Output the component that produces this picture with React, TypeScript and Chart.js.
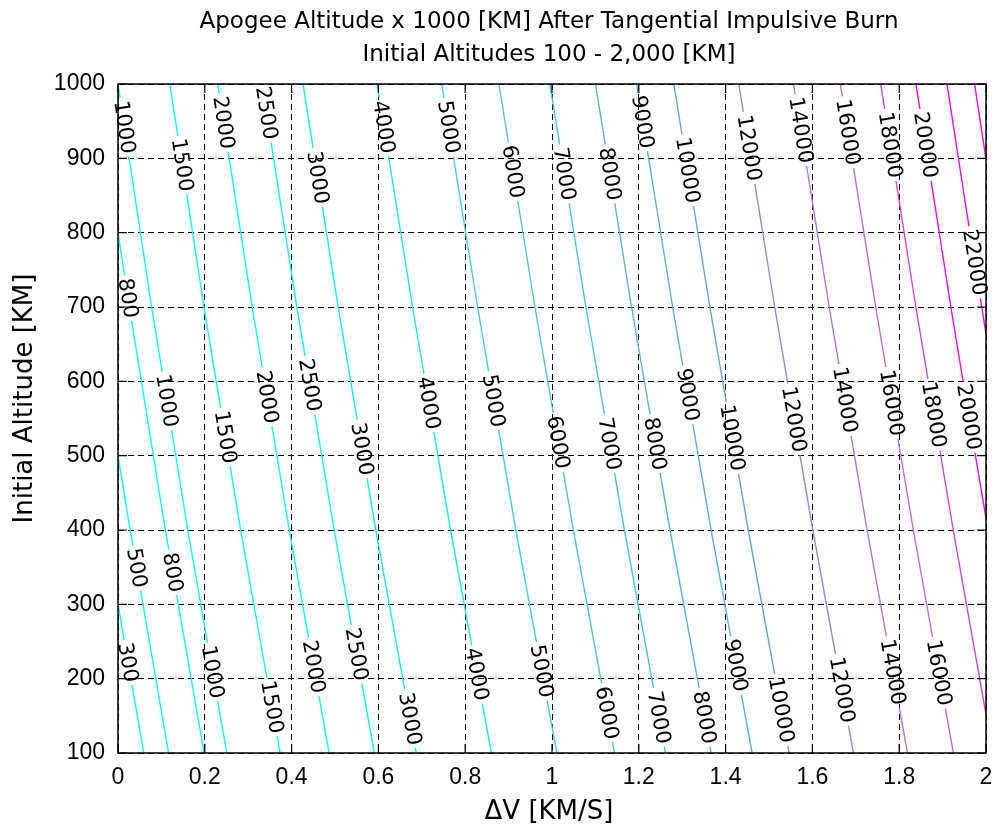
import React, { useEffect, useRef } from "react";
import { Chart, registerables } from "chart.js";

Chart.register(...registerables);

// ---------------- data ----------------
const chartTitle = ["Apogee Altitude x 1000 [KM] After Tangential Impulsive Burn", "Initial Altitudes 100 - 2,000 [KM]"];
const xTitle = "\u0394V [KM/S]";
const yTitle = "Initial Altitude [KM]";

const xTickLabels = ["0", "0.2", "0.4", "0.6", "0.8", "1", "1.2", "1.4", "1.6", "1.8", "2"];
const yTickLabels = ["100", "200", "300", "400", "500", "600", "700", "800", "900", "1000"];

const levels = [300, 500, 800, 1000, 1500, 2000, 2500, 3000, 4000, 5000, 6000, 7000, 8000, 9000, 10000, 12000, 14000, 16000, 18000, 20000, 22000, 24000];

// each contour: [deltaV (km/s), initial altitude (km)], ascending altitude
const c300 = [[0.0594, 100], [0, 300]];
const c500 = [[0.1166, 100], [0.028, 400], [0, 500]];
const c800 = [[0.1985, 100], [0.1091, 400], [0.0263, 700], [0, 800]];
const c1000 = [[0.2507, 100], [0.1608, 400], [0.0775, 700], [0, 1000]];
const c1500 = [[0.3736, 100], [0.2826, 400], [0.1981, 700], [0.1195, 1000]];
const c2000 = [[0.4865, 100], [0.3946, 400], [0.3092, 700], [0.2297, 1000]];
const c2500 = [[0.5907, 100], [0.4981, 400], [0.412, 700], [0.3316, 1000]];
const c3000 = [[0.6872, 100], [0.594, 400], [0.5073, 700], [0.4263, 1000]];
const c4000 = [[0.8603, 100], [0.7663, 400], [0.6787, 700], [0.5968, 1000]];
const c5000 = [[1.0111, 100], [0.9167, 400], [0.8285, 700], [0.746, 1000]];
const c6000 = [[1.1438, 100], [1.0492, 400], [0.9607, 700], [0.8777, 1000]];
const c7000 = [[1.2615, 100], [1.1668, 400], [1.0781, 700], [0.995, 1000]];
const c8000 = [[1.3666, 100], [1.2719, 400], [1.1833, 700], [1.1001, 1000]];
const c9000 = [[1.4611, 100], [1.3666, 400], [1.278, 700], [1.1949, 1000]];
const c10000 = [[1.5464, 100], [1.4521, 400], [1.3638, 700], [1.2807, 1000]];
const c12000 = [[1.6947, 100], [1.601, 400], [1.5131, 700], [1.4304, 1000]];
const c14000 = [[1.8191, 100], [1.726, 400], [1.6387, 700], [1.5565, 1000]];
const c16000 = [[1.9249, 100], [1.8326, 400], [1.7459, 700], [1.6642, 1000]];
const c18000 = [[2, 152], [1.9245, 400], [1.8384, 700], [1.7573, 1000]];
const c20000 = [[2, 416], [1.9612, 550], [1.9191, 700], [1.8386, 1000]];
const c22000 = [[2, 664], [1.9902, 700], [1.9496, 850], [1.9102, 1000]];
const c24000 = [[2, 899], [1.9737, 1000]];

const levelColors = [
  "#00ffff", "#00ffff", "#00ffff", "#00ffff", "#00ffff", "#00ffff", "#00f6f6", "#00f0f0",
  "#18e8e8", "#44d0d0", "#4cc8c8", "#44c8c8", "#58b4d2", "#5ab0d4", "#60a8d4",
  "#8c8cd8", "#ae74d8", "#ba6cdc", "#d044dc", "#ff00ff", "#ff00ff", "#ff00ff",
];

// contour labels: level and the altitude where the label sits
const labelLevel = [
  1000, 1500, 2000, 2500, 3000, 4000, 5000, 6000, 7000, 8000, 9000, 10000, 12000, 14000, 16000, 18000, 20000, 22000,
  800, 1000, 1500, 2000, 2500, 3000, 4000, 5000, 6000, 7000, 8000, 9000, 10000, 12000, 14000, 16000, 18000, 20000,
  300, 500, 800, 1000, 1500, 2000, 2500, 3000, 4000, 5000, 6000, 7000, 8000, 9000, 10000, 12000, 14000, 16000,
];
const labelAlt = [
  942, 891, 948, 961, 874, 942, 942, 882, 879, 879, 949, 884, 914, 938, 935, 918, 918, 760,
  712, 574, 525, 579, 595, 509, 571, 574, 518, 516, 516, 582, 524, 549, 575, 571, 555, 552,
  222, 349, 343, 209, 162, 216, 233, 146, 206, 210, 154, 148, 148, 218, 158, 185, 209, 208,
];

// ---------------- component ----------------
const LABEL_FONT = 21;
const LABEL_FAMILY = '"DejaVu Sans", sans-serif';

function dvAt(pts: number[][], alt: number): number | null {
  for (let k = 0; k < pts.length - 1; k++) {
    const [x0, y0] = pts[k];
    const [x1, y1] = pts[k + 1];
    if (alt >= y0 && alt <= y1) {
      const t = (alt - y0) / (y1 - y0);
      return x0 + t * (x1 - x0);
    }
  }
  return null;
}

export default function App() {
  const ref = useRef<HTMLCanvasElement>(null);

  useEffect(() => {
    const canvas = ref.current;
    if (!canvas) return;
    const contours = [c300, c500, c800, c1000, c1500, c2000, c2500, c3000, c4000, c5000, c6000, c7000, c8000, c9000, c10000, c12000, c14000, c16000, c18000, c20000, c22000, c24000];

    const datasets = levels.map((lv, i) => ({
      label: String(lv),
      data: contours[i].map(([x, y]) => ({ x, y })),
      showLine: true,
      borderColor: levelColors[i],
      backgroundColor: levelColors[i],
      borderWidth: 1.4,
      pointRadius: 0,
      pointHoverRadius: 0,
      fill: false,
      tension: 0,
    }));

    const computeLabels = (chart: any) => {
      const xs = chart.scales.x;
      const ys = chart.scales.y;
      const ctx = chart.ctx as CanvasRenderingContext2D;
      ctx.save();
      ctx.font = `${LABEL_FONT}px ${LABEL_FAMILY}`;
      const out: { x: number; y: number; a: number; w: number; t: string }[] = [];
      labelLevel.forEach((lv, i) => {
        const idx = levels.indexOf(lv);
        if (idx < 0) return;
        const pts = contours[idx];
        const alt = labelAlt[i];
        const lo = pts[0][1];
        const hi = pts[pts.length - 1][1];
        const dv = dvAt(pts, alt);
        if (dv === null) return;
        const aHi = Math.min(hi, alt + 15);
        const aLo = Math.max(lo, alt - 15);
        const d1 = dvAt(pts, aHi) as number;
        const d2 = dvAt(pts, aLo) as number;
        const p1x = xs.getPixelForValue(d1), p1y = ys.getPixelForValue(aHi);
        const p2x = xs.getPixelForValue(d2), p2y = ys.getPixelForValue(aLo);
        let a = Math.atan2(p2y - p1y, p2x - p1x);
        if (a > Math.PI / 2) a -= Math.PI;
        if (a < -Math.PI / 2) a += Math.PI;
        const t = String(lv);
        out.push({ x: xs.getPixelForValue(dv), y: ys.getPixelForValue(alt), a, w: ctx.measureText(t).width, t });
      });
      ctx.restore();
      return out;
    };

    const plugin = {
      id: "contourDecor",
      beforeDatasetsDraw(chart: any) {
        const ctx = chart.ctx as CanvasRenderingContext2D;
        const labels = computeLabels(chart);
        chart.$contourLabels = labels;
        ctx.save();
        ctx.beginPath();
        ctx.rect(0, 0, chart.width, chart.height);
        labels.forEach((l) => {
          const hw = l.w / 2 + 3;
          const hh = 7;
          const c = Math.cos(l.a), s = Math.sin(l.a);
          const corners = [[-hw, -hh], [hw, -hh], [hw, hh], [-hw, hh]].map(([u, v]) => [l.x + u * c - v * s, l.y + u * s + v * c]);
          ctx.moveTo(corners[0][0], corners[0][1]);
          for (let k = 1; k < 4; k++) ctx.lineTo(corners[k][0], corners[k][1]);
          ctx.closePath();
        });
        ctx.clip("evenodd");
      },
      afterDatasetsDraw(chart: any) {
        const ctx = chart.ctx as CanvasRenderingContext2D;
        ctx.restore();
        const labels = chart.$contourLabels || [];
        ctx.save();
        ctx.fillStyle = "#000";
        ctx.font = `${LABEL_FONT}px ${LABEL_FAMILY}`;
        ctx.textAlign = "center";
        ctx.textBaseline = "middle";
        labels.forEach((l: any) => {
          ctx.save();
          ctx.translate(l.x, l.y);
          ctx.rotate(l.a);
          ctx.fillText(l.t, 0, 1);
          ctx.restore();
        });
        ctx.restore();

        // box and inward tick marks
        const { left, right, top, bottom } = chart.chartArea;
        const xs = chart.scales.x;
        const ys = chart.scales.y;
        ctx.save();
        ctx.strokeStyle = "#000";
        ctx.lineWidth = 1.5;
        ctx.setLineDash([]);
        ctx.strokeRect(left, top, right - left, bottom - top);
        ctx.lineWidth = 1.2;
        const TL = 9;
        ctx.beginPath();
        xs.ticks.forEach((t: any) => {
          const px = xs.getPixelForValue(t.value);
          ctx.moveTo(px, bottom); ctx.lineTo(px, bottom - TL);
          ctx.moveTo(px, top); ctx.lineTo(px, top + TL);
        });
        ys.ticks.forEach((t: any) => {
          const py = ys.getPixelForValue(t.value);
          ctx.moveTo(left, py); ctx.lineTo(left + TL, py);
          ctx.moveTo(right, py); ctx.lineTo(right - TL, py);
        });
        ctx.stroke();
        ctx.restore();
      },
      afterDraw(chart: any) {
        const ctx = chart.ctx as CanvasRenderingContext2D;
        const { left, right, top, bottom } = chart.chartArea;
        const cx = (left + right) / 2 - 3;
        ctx.save();
        ctx.fillStyle = "#000";
        ctx.textAlign = "center";
        ctx.textBaseline = "alphabetic";
        ctx.font = '23px "DejaVu Sans", sans-serif';
        ctx.fillText(chartTitle[0], cx, 28);
        ctx.fillText(chartTitle[1], cx, 61);
        ctx.font = '26px "DejaVu Sans", sans-serif';
        ctx.fillText(xTitle, cx, 819);
        ctx.translate(25, (top + bottom) / 2 - 20);
        ctx.rotate(-Math.PI / 2);
        ctx.textBaseline = "middle";
        ctx.fillText(yTitle, 0, 0);
        ctx.restore();
      },
    };

    const tickFont = { family: '"Liberation Sans", Arial, sans-serif', size: 23 };

    const chart = new Chart(canvas, {
      type: "scatter",
      data: { datasets: datasets as any },
      plugins: [plugin as any],
      options: {
        animation: false,
        responsive: false,
        devicePixelRatio: 1,
        events: [],
        layout: { padding: { top: 84, right: 6, left: 0, bottom: 0 } },
        plugins: {
          legend: { display: false },
          tooltip: { enabled: false },
          title: { display: false },
        },
        scales: {
          x: {
            type: "linear",
            min: 0,
            max: 2,
            afterFit: (s: any) => { s.height = 78; s.paddingLeft = 0; s.paddingRight = 0; },
            ticks: {
              stepSize: 0.2,
              autoSkip: false,
              maxRotation: 0,
              padding: 11,
              color: "#000",
              font: tickFont,
              callback: (_v: any, i: number) => xTickLabels[i],
            },
            grid: { color: "#000", lineWidth: 1, drawTicks: false },
            border: { display: false, dash: [6, 4] },
          },
          y: {
            type: "linear",
            min: 100,
            max: 1000,
            afterFit: (s: any) => { s.width = 118; s.paddingTop = 0; s.paddingBottom = 0; },
            ticks: {
              stepSize: 100,
              autoSkip: false,
              padding: 13,
              color: "#000",
              font: tickFont,
              callback: (_v: any, i: number) => yTickLabels[i],
            },
            grid: { color: "#000", lineWidth: 1, drawTicks: false },
            border: { display: false, dash: [6, 4] },
          },
        },
      } as any,
    });

    return () => chart.destroy();
  }, []);

  return (
    <div style={{ position: "absolute", left: 0, top: 0, width: 992, height: 831, background: "#fff" }}>
      <canvas ref={ref} width={992} height={831} style={{ display: "block" }} />
    </div>
  );
}
